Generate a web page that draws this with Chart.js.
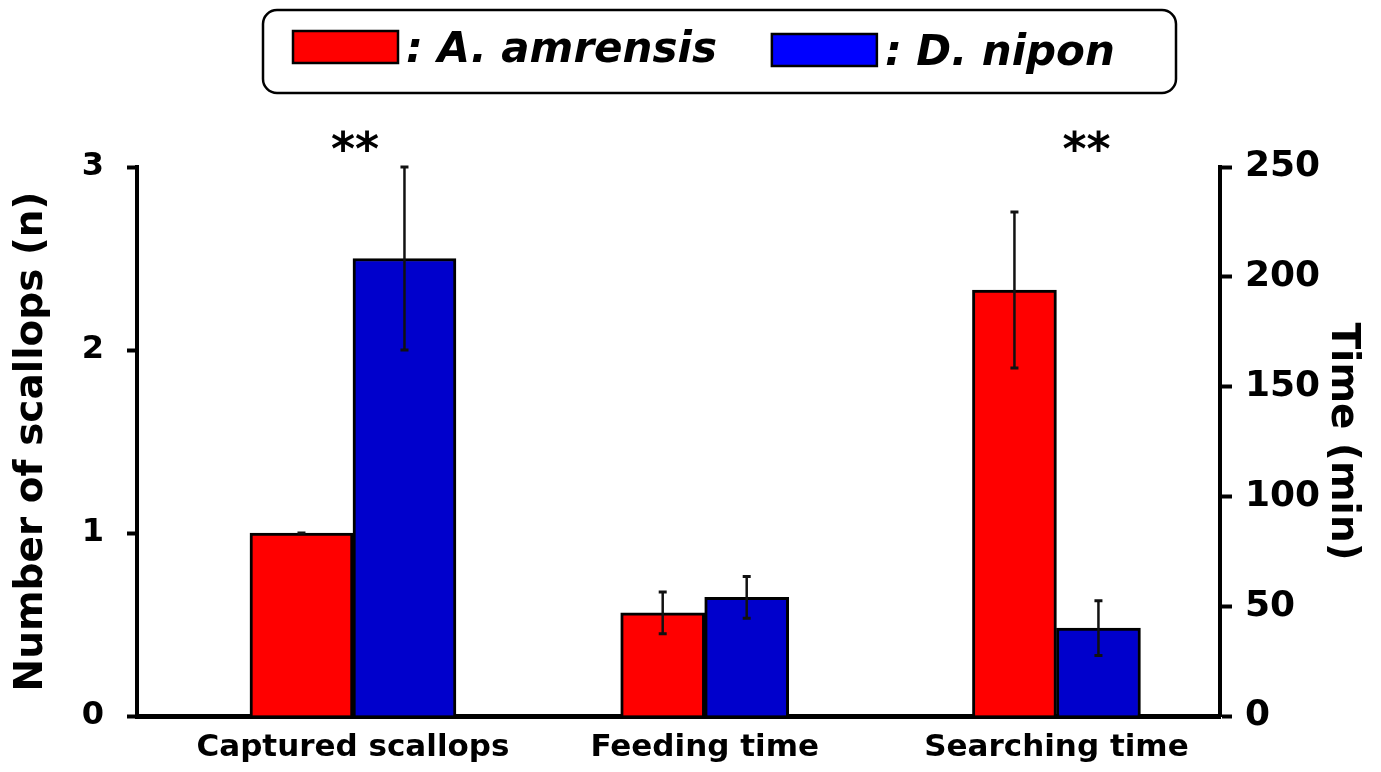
<!DOCTYPE html>
<html>
<head>
<meta charset="utf-8">
<title>Scallop predation</title>
<script src="https://cdn.jsdelivr.net/npm/chart.js@4.4.0/dist/chart.umd.min.js"></script>
<style>
    html, body { margin: 0; padding: 0; background: #fff; }
    #wrap { position: relative; width: 1381px; height: 772px; }
</style>
</head>
<body>
<div id="wrap"><canvas id="chart"></canvas></div>
<script>
// ================================================================== Data
const categories = ['Captured scallops', 'Feeding time', 'Searching time'];
const categoryAxis = ['count', 'time', 'time'];
const species = [': A. amrensis', ': D. nipon'];

const amrensisMean = [1.0, 47, 194];
const amrensisErr = [0, 9.5, 35.5];
const niponMean = [2.5, 54, 40];
const niponErr = [0.5, 9.5, 12.5];

const significance = ['**', '', '**'];
const countTicks = [0, 1, 2, 3];
const timeTicks = [0, 50, 100, 150, 200, 250];

const barColors = ['#ff0000', '#0000cc'];
const legendColors = ['#ff0000', '#0000ff'];
const FONT = 'DejaVu Sans';

// ================================================================== Datasets
function pointsFor(values, axis) {
    return categories.map((c, i) => ({ x: i, y: categoryAxis[i] === axis ? values[i] : null }));
}

function makeDataset(label, values, errs, axis, color) {
    return {
        label: label,
        data: pointsFor(values, axis),
        errors: errs,
        yAxisID: axis,
        backgroundColor: color,
        borderColor: '#000',
        borderWidth: 3,
        borderSkipped: 'bottom',
        barThickness: axis === 'count' ? 103 : 84,
        skipNull: true
    };
}

let datasets = [
    makeDataset(species[0], amrensisMean, amrensisErr, 'count', barColors[0]),
    makeDataset(species[1], niponMean, niponErr, 'count', barColors[1]),
    makeDataset(species[0], amrensisMean, amrensisErr, 'time', barColors[0]),
    makeDataset(species[1], niponMean, niponErr, 'time', barColors[1])
];

// ================================================================== Plugins
const errorBars = {
    id: 'errorBars',
    afterDatasetsDraw(chart) {
        let ctx = chart.ctx;
        ctx.save();
        ctx.strokeStyle = '#111';
        chart.data.datasets.forEach((ds, di) => {
            let meta = chart.getDatasetMeta(di);
            let yScale = chart.scales[ds.yAxisID];
            meta.data.forEach((bar, i) => {
                let v = ds.data[i].y;
                if (v === null) return;
                let top = yScale.getPixelForValue(v + ds.errors[i]);
                let bottom = yScale.getPixelForValue(v - ds.errors[i]);
                ctx.lineWidth = 2.5;
                ctx.beginPath();
                ctx.moveTo(bar.x, top);
                ctx.lineTo(bar.x, bottom);
                ctx.stroke();
                ctx.lineWidth = 3;
                ctx.beginPath();
                ctx.moveTo(bar.x - 4, top);
                ctx.lineTo(bar.x + 4, top);
                ctx.moveTo(bar.x - 4, bottom);
                ctx.lineTo(bar.x + 4, bottom);
                ctx.stroke();
            });
        });
        ctx.restore();
    }
};

const starMarks = {
    id: 'starMarks',
    afterDraw(chart, args, opts) {
        let ctx = chart.ctx;
        let xScale = chart.scales.x;
        ctx.save();
        ctx.font = 'bold 46px "' + FONT + '"';
        ctx.fillStyle = '#000';
        ctx.textAlign = 'center';
        ctx.textBaseline = 'alphabetic';
        significance.forEach((s, i) => {
            if (!s) return;
            ctx.fillText(s, xScale.getPixelForValue(i) + opts.shift[i], chart.chartArea.top - 2);
        });
        ctx.restore();
    }
};

function roundedRect(ctx, x, y, w, h, r) {
    ctx.beginPath();
    ctx.moveTo(x + r, y);
    ctx.arcTo(x + w, y, x + w, y + h, r);
    ctx.arcTo(x + w, y + h, x, y + h, r);
    ctx.arcTo(x, y + h, x, y, r);
    ctx.arcTo(x, y, x + w, y, r);
    ctx.closePath();
}

const legendBox = {
    id: 'legendBox',
    afterDraw(chart, args, opts) {
        let ctx = chart.ctx;
        ctx.save();
        ctx.strokeStyle = '#000';
        ctx.lineWidth = 2.5;
        roundedRect(ctx, opts.left, opts.top, opts.width, opts.height, 14);
        ctx.stroke();

        ctx.font = 'italic bold 42px "' + FONT + '"';
        ctx.textBaseline = 'alphabetic';
        let x = opts.left + 30;
        species.forEach((name, i) => {
            let dy = i * 3;
            ctx.fillStyle = legendColors[i];
            ctx.fillRect(x, opts.top + 21 + dy, 105, 32);
            ctx.lineWidth = 2.5;
            ctx.strokeRect(x, opts.top + 21 + dy, 105, 32);
            x += 105 + 8;
            ctx.fillStyle = '#000';
            ctx.fillText(name, x, opts.top + 52 + dy);
            x += ctx.measureText(name).width + 55;
        });
        ctx.restore();
    }
};

// ================================================================== Chart
const tickFont = { family: FONT, weight: 'bold' };

new Chart(document.getElementById('chart'), {
    type: 'bar',
    data: { datasets: datasets },
    plugins: [errorBars, starMarks, legendBox],
    options: {
        responsive: true,
        maintainAspectRatio: false,
        animation: false,
        events: [],
        layout: { padding: { top: 167, left: 20, right: 0, bottom: 0 } },
        plugins: {
            legend: { display: false },
            tooltip: { enabled: false },
            starMarks: { shift: [2, 0, 30] },
            legendBox: { left: 263, top: 10, width: 913, height: 83 }
        },
        scales: {
            x: {
                type: 'linear',
                min: -0.614,
                max: 2.465,
                offset: false,
                grid: { display: false, offset: false },
                border: { display: true, color: '#000', width: 5 },
                afterBuildTicks: (scale) => { scale.ticks = categories.map((c, i) => ({ value: i })); },
                afterFit: (scale) => { scale.height = 56; },
                ticks: {
                    callback: (v) => categories[v] || '',
                    font: { ...tickFont, size: 31 },
                    color: '#000',
                    padding: 5,
                    maxRotation: 0,
                    autoSkip: false
                }
            },
            count: {
                type: 'linear',
                position: 'left',
                min: 0,
                max: 3,
                afterBuildTicks: (scale) => { scale.ticks = countTicks.map(v => ({ value: v })); },
                afterFit: (scale) => { scale.width = 117; },
                grid: { drawOnChartArea: false, drawTicks: true, tickLength: 10, tickWidth: 4, tickColor: '#000' },
                border: { color: '#000', width: 4 },
                ticks: { font: { ...tickFont, size: 32 }, color: '#000', padding: 23 },
                title: {
                    display: true,
                    text: 'Number of scallops (n)',
                    color: '#000',
                    font: { ...tickFont, size: 39, lineHeight: 1 },
                    padding: { top: -8, bottom: 0 }
                }
            },
            time: {
                type: 'linear',
                position: 'right',
                min: 0,
                max: 250,
                afterBuildTicks: (scale) => { scale.ticks = timeTicks.map(v => ({ value: v })); },
                afterFit: (scale) => { scale.width = 161; },
                grid: { drawOnChartArea: false, drawTicks: true, tickLength: 12, tickWidth: 4, tickColor: '#000' },
                border: { color: '#000', width: 4 },
                ticks: { font: { ...tickFont, size: 36 }, color: '#000', padding: 13 },
                title: {
                    display: true,
                    text: 'Time (min)',
                    color: '#000',
                    font: { ...tickFont, size: 39, lineHeight: 1 },
                    padding: { top: 19, bottom: 0 }
                }
            }
        }
    }
});
</script>
</body>
</html>
